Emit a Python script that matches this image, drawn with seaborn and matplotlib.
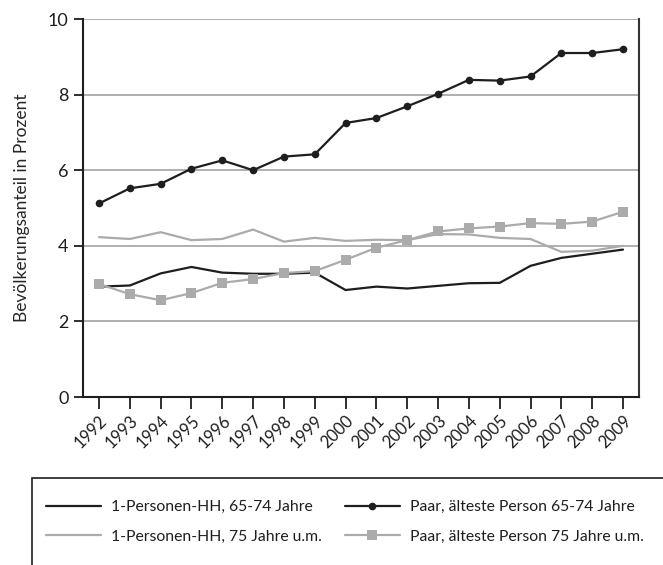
import numpy as np
import pandas as pd
import matplotlib.pyplot as plt
from matplotlib.patches import Rectangle
from matplotlib.lines import Line2D
import seaborn as sns

years = list(range(1992, 2010))

einzel_65_74 = [2.92, 2.95, 3.27, 3.44, 3.29, 3.26, 3.26, 3.29, 2.83, 2.92,
                2.87, 2.94, 3.01, 3.02, 3.47, 3.68, 3.79, 3.90]
einzel_75 = [4.23, 4.18, 4.36, 4.15, 4.18, 4.43, 4.11, 4.21, 4.13, 4.16,
             4.15, 4.31, 4.30, 4.21, 4.18, 3.84, 3.87, 4.00]
paar_65_74 = [5.12, 5.52, 5.64, 6.04, 6.26, 6.00, 6.36, 6.42, 7.25, 7.38,
              7.69, 8.02, 8.39, 8.37, 8.48, 9.10, 9.10, 9.20]
paar_75 = [2.99, 2.72, 2.56, 2.75, 3.02, 3.12, 3.28, 3.33, 3.63, 3.95,
           4.15, 4.38, 4.46, 4.51, 4.60, 4.58, 4.64, 4.90]

labels = ["1-Personen-HH, 65-74 Jahre", "1-Personen-HH, 75 Jahre u.m.",
          "Paar, älteste Person 65-74 Jahre", "Paar, älteste Person 75 Jahre u.m."]

dark = "#1e1e1e"
grey = "#ababab"

sns.set_theme(style="white")
plt.rcParams['font.family'] = ['Lato', 'DejaVu Sans']
plt.rcParams['text.color'] = dark

fig = plt.figure(figsize=(6.63, 5.65), dpi=100)
ax = fig.add_axes([83/663, 1-397/565, (639-83)/663, (397-19)/565])

# grid lines first so the data sits on top
for g in [2, 4, 6, 8, 10]:
    ax.axhline(g, color="#a3a3a3", lw=1.2, zorder=0)

df = pd.DataFrame({"year": years, "e65": einzel_65_74, "e75": einzel_75,
                   "p65": paar_65_74, "p75": paar_75})

sns.lineplot(data=df, x="year", y="e75", color=grey, lw=1.6, ax=ax, zorder=2)
sns.lineplot(data=df, x="year", y="e65", color=dark, lw=1.6, ax=ax, zorder=3)
sns.lineplot(data=df, x="year", y="p75", color=grey, lw=1.6, marker="s",
             markersize=6.5, markeredgewidth=0, ax=ax, zorder=4)
sns.lineplot(data=df, x="year", y="p65", color=dark, lw=1.6, marker="o",
             markersize=5.5, markeredgewidth=0, ax=ax, zorder=5)

ax.set_xlim(1991.48, 2009.52)
ax.set_ylim(0, 10)
ax.set_yticks([0, 2, 4, 6, 8, 10])
ax.set_yticklabels(["0", "2", "4", "6", "8", "10"], fontsize=13)
ax.set_xticks(years)
ax.set_xticklabels([str(y) for y in years], rotation=45, ha="right",
                   rotation_mode="anchor", fontsize=12)
ax.set_xlabel("")
ax.set_ylabel("Bevölkerungsanteil in Prozent", fontsize=12.5, labelpad=13)

ax.tick_params(axis="y", direction="out", length=6.5, width=1.3, color=dark,
               left=True, pad=4, labelcolor=dark)
ax.tick_params(axis="x", direction="out", length=8.5, width=1.3, color=dark,
               bottom=True, pad=3, labelcolor=dark)

ax.spines["top"].set_visible(False)
ax.spines["left"].set_color(dark)
ax.spines["bottom"].set_color(dark)
ax.spines["right"].set_color("#333333")
for s in ["left", "bottom", "right"]:
    ax.spines[s].set_linewidth(1.5)

# legend: two columns placed by hand, box runs off the page edge
h = [Line2D([], [], color=dark, lw=1.6),
     Line2D([], [], color=grey, lw=1.6),
     Line2D([], [], color=dark, lw=1.6, marker="o", markersize=5.5, markeredgewidth=0),
     Line2D([], [], color=grey, lw=1.6, marker="s", markersize=6.5, markeredgewidth=0)]

leg_kw = dict(frameon=False, fontsize=11.3, handlelength=3.5, handletextpad=0.65,
              labelspacing=1.0, borderpad=0, borderaxespad=0, loc="center left")
leg1 = fig.legend(h[:2], labels[:2], bbox_to_anchor=(46/663, 1-522/565), **leg_kw)
leg2 = fig.legend(h[2:], labels[2:], bbox_to_anchor=(345/663, 1-522/565), **leg_kw)

fig.patches.append(Rectangle((32/663, -0.1), 1.0, 0.1 + 1-478/565,
                             transform=fig.transFigure, fill=False,
                             edgecolor=dark, lw=1.2))

fig.savefig("out.png", dpi=100)
